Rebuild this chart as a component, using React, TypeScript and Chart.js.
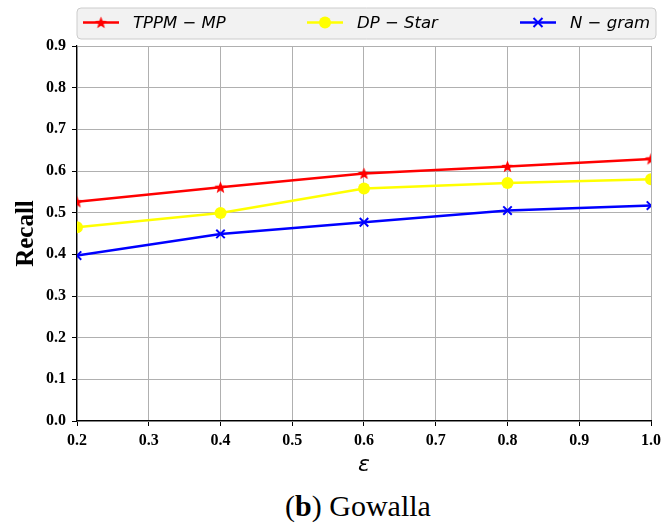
import React, { useEffect, useRef } from 'react';
import { Chart, registerables } from 'chart.js';

Chart.register(...registerables);

const epsilons = [0.2, 0.4, 0.6, 0.8, 1.0];
const tppmMp = [0.526, 0.561, 0.594, 0.611, 0.629];
const dpStar = [0.465, 0.499, 0.558, 0.571, 0.58];
const nGram = [0.397, 0.449, 0.477, 0.505, 0.517];
const seriesLabels = ['TPPM − MP', 'DP − Star', 'N − gram'];
const seriesColors = ['#ff0000', '#ffff00', '#0000ff'];
const xAxisTitle = 'ε';
const yAxisTitle = 'Recall';
const captionLetter = 'b';
const captionName = 'Gowalla';

const W = 666;
const H = 480;

function makeStar(color: string, r: number): HTMLCanvasElement {
  const c = document.createElement('canvas');
  const s = Math.ceil(r * 2 + 2);
  c.width = s;
  c.height = s;
  const ctx = c.getContext('2d')!;
  const cx = s / 2;
  const cy = s / 2 + 0.5;
  const inner = r * 0.42;
  ctx.beginPath();
  for (let i = 0; i < 10; i++) {
    const rad = i % 2 === 0 ? r : inner;
    const a = -Math.PI / 2 + (i * Math.PI) / 5;
    const x = cx + rad * Math.cos(a);
    const y = cy + rad * Math.sin(a);
    if (i === 0) ctx.moveTo(x, y);
    else ctx.lineTo(x, y);
  }
  ctx.closePath();
  ctx.fillStyle = color;
  ctx.fill();
  return c;
}

const legendPlugin = {
  id: 'mplLegend',
  afterDraw(chart: any) {
    const ctx = chart.ctx as CanvasRenderingContext2D;
    ctx.save();
    const bx = 77, by = 8, bw = 579, bh = 31, r = 4;
    ctx.beginPath();
    ctx.moveTo(bx + r, by);
    ctx.lineTo(bx + bw - r, by);
    ctx.quadraticCurveTo(bx + bw, by, bx + bw, by + r);
    ctx.lineTo(bx + bw, by + bh - r);
    ctx.quadraticCurveTo(bx + bw, by + bh, bx + bw - r, by + bh);
    ctx.lineTo(bx + r, by + bh);
    ctx.quadraticCurveTo(bx, by + bh, bx, by + bh - r);
    ctx.lineTo(bx, by + r);
    ctx.quadraticCurveTo(bx, by, bx + r, by);
    ctx.closePath();
    ctx.fillStyle = '#f2f2f2';
    ctx.fill();
    ctx.strokeStyle = '#cccccc';
    ctx.lineWidth = 1;
    ctx.stroke();

    const itemX = [83, 307, 520];
    const ly = by + bh / 2 - 1;
    chart.data.datasets.forEach((ds: any, i: number) => {
      const x0 = itemX[i];
      ctx.strokeStyle = ds.borderColor;
      ctx.lineWidth = 2.5;
      ctx.beginPath();
      ctx.moveTo(x0, ly);
      ctx.lineTo(x0 + 36, ly);
      ctx.stroke();
      const mx = x0 + 18;
      if (ds.pointStyle instanceof HTMLCanvasElement) {
        const img = ds.pointStyle as HTMLCanvasElement;
        ctx.drawImage(img, mx - img.width / 2, ly - img.height / 2);
      } else if (ds.pointStyle === 'circle') {
        ctx.beginPath();
        ctx.arc(mx, ly, ds.pointRadius, 0, Math.PI * 2);
        ctx.fillStyle = ds.pointBackgroundColor;
        ctx.fill();
      } else {
        const d = ds.pointRadius * 0.75;
        ctx.lineWidth = 2;
        ctx.beginPath();
        ctx.moveTo(mx - d, ly - d);
        ctx.lineTo(mx + d, ly + d);
        ctx.moveTo(mx + d, ly - d);
        ctx.lineTo(mx - d, ly + d);
        ctx.stroke();
      }
      ctx.fillStyle = '#000';
      ctx.font = 'italic 16.5px "DejaVu Sans"';
      ctx.textBaseline = 'middle';
      ctx.textAlign = 'left';
      ctx.fillText(ds.label, x0 + 50, ly + 1);
    });
    ctx.restore();
  },
};

export default function App() {
  const ref = useRef<HTMLCanvasElement>(null);

  useEffect(() => {
    if (!ref.current) return;
    const star = makeStar('#ff0000', 6.5);
    const toPts = (vals: number[]) => vals.map((v, i) => ({ x: epsilons[i], y: v }));
    const chart = new Chart(ref.current, {
      type: 'line',
      data: {
        datasets: [
          {
            label: seriesLabels[0],
            data: toPts(tppmMp),
            borderColor: seriesColors[0],
            backgroundColor: seriesColors[0],
            pointBackgroundColor: seriesColors[0],
            pointBorderColor: seriesColors[0],
            borderWidth: 2.5,
            pointStyle: star as any,
            pointRadius: 6,
            clip: 0,
          } as any,
          {
            label: seriesLabels[1],
            data: toPts(dpStar),
            borderColor: seriesColors[1],
            backgroundColor: seriesColors[1],
            pointBackgroundColor: seriesColors[1],
            pointBorderColor: seriesColors[1],
            borderWidth: 2.5,
            pointStyle: 'circle',
            pointRadius: 6,
            pointBorderWidth: 0,
            clip: 0,
          } as any,
          {
            label: seriesLabels[2],
            data: toPts(nGram),
            borderColor: seriesColors[2],
            backgroundColor: seriesColors[2],
            pointBackgroundColor: seriesColors[2],
            pointBorderColor: seriesColors[2],
            borderWidth: 2.5,
            pointStyle: 'crossRot',
            pointRadius: 6,
            pointBorderWidth: 2,
            clip: 0,
          } as any,
        ],
      },
      options: {
        responsive: false,
        animation: false,
        events: [],
        layout: { padding: { top: 46, right: 12, left: 0, bottom: 0 } },
        plugins: { legend: { display: false }, tooltip: { enabled: false } },
        scales: {
          x: {
            type: 'linear',
            min: 0.2,
            max: 1.0,
            afterFit: (s: any) => {
              s.height = H - 421;
            },
            ticks: {
              stepSize: 0.1,
              color: '#000',
              padding: 5,
              maxRotation: 0,
              font: { family: '"Liberation Serif"', size: 16, weight: 'bold' },
              callback: (v: any) => Number(v).toFixed(1),
            },
            grid: { color: '#b0b0b0', lineWidth: 1, tickColor: '#000', tickLength: 5 },
            border: { color: '#000', width: 1.2 },
            title: {
              display: true,
              text: xAxisTitle,
              color: '#000',
              font: { family: '"DejaVu Sans"', size: 22, style: 'italic' },
              padding: { top: 0, bottom: 2 },
            },
          },
          y: {
            type: 'linear',
            min: 0,
            max: 0.9,
            afterFit: (s: any) => {
              s.width = 77;
            },
            ticks: {
              stepSize: 0.1,
              color: '#000',
              padding: 6,
              font: { family: '"Liberation Serif"', size: 16, weight: 'bold' },
              callback: (v: any) => Number(v).toFixed(1),
            },
            grid: { color: '#b0b0b0', lineWidth: 1, tickColor: '#000', tickLength: 5 },
            border: { color: '#000', width: 1.2 },
            title: {
              display: true,
              text: yAxisTitle,
              color: '#000',
              font: { family: '"Liberation Serif"', size: 25, weight: 'bold' },
              padding: { top: 12, bottom: 0 },
            },
          },
        },
      },
      plugins: [legendPlugin],
    });
    return () => chart.destroy();
  }, []);

  return (
    <div style={{ position: 'absolute', left: 0, top: 0, width: W, height: 530, background: '#fff' }}>
      <canvas ref={ref} width={W} height={H} style={{ display: 'block', width: W, height: H }} />
      <div
        style={{
          position: 'absolute',
          left: 0,
          top: 488,
          width: 716,
          textAlign: 'center',
          fontFamily: '"Liberation Serif"',
          fontSize: 30,
          lineHeight: '36px',
          color: '#000',
        }}
      >
        (<b>{captionLetter}</b>) {captionName}
      </div>
    </div>
  );
}
